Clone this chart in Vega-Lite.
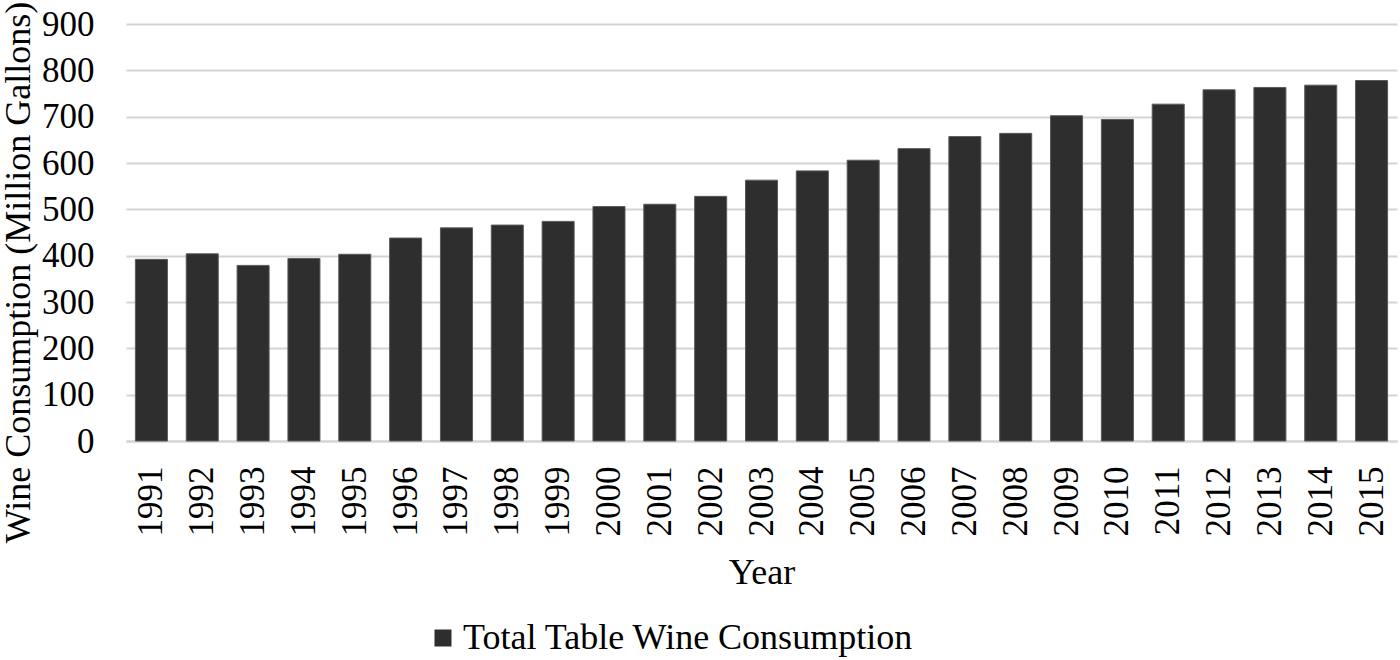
{
  "$schema": "https://vega.github.io/schema/vega-lite/v6.json",
  "width": 1271,
  "height": 417,
  "autosize": {"type": "none"},
  "padding": {"left": 126, "top": 24, "right": 3, "bottom": 219},
  "background": "white",
  "config": {
    "view": {"stroke": null},
    "font": "Liberation Serif"
  },
  "data": {
    "values": [
      {"Year": "1991", "Consumption": 392, "Series": "Total Table Wine Consumption"},
      {"Year": "1992", "Consumption": 404, "Series": "Total Table Wine Consumption"},
      {"Year": "1993", "Consumption": 379, "Series": "Total Table Wine Consumption"},
      {"Year": "1994", "Consumption": 394, "Series": "Total Table Wine Consumption"},
      {"Year": "1995", "Consumption": 403, "Series": "Total Table Wine Consumption"},
      {"Year": "1996", "Consumption": 438, "Series": "Total Table Wine Consumption"},
      {"Year": "1997", "Consumption": 460, "Series": "Total Table Wine Consumption"},
      {"Year": "1998", "Consumption": 466, "Series": "Total Table Wine Consumption"},
      {"Year": "1999", "Consumption": 474, "Series": "Total Table Wine Consumption"},
      {"Year": "2000", "Consumption": 506, "Series": "Total Table Wine Consumption"},
      {"Year": "2001", "Consumption": 511, "Series": "Total Table Wine Consumption"},
      {"Year": "2002", "Consumption": 528, "Series": "Total Table Wine Consumption"},
      {"Year": "2003", "Consumption": 563, "Series": "Total Table Wine Consumption"},
      {"Year": "2004", "Consumption": 583, "Series": "Total Table Wine Consumption"},
      {"Year": "2005", "Consumption": 606, "Series": "Total Table Wine Consumption"},
      {"Year": "2006", "Consumption": 631, "Series": "Total Table Wine Consumption"},
      {"Year": "2007", "Consumption": 657, "Series": "Total Table Wine Consumption"},
      {"Year": "2008", "Consumption": 664, "Series": "Total Table Wine Consumption"},
      {"Year": "2009", "Consumption": 702, "Series": "Total Table Wine Consumption"},
      {"Year": "2010", "Consumption": 694, "Series": "Total Table Wine Consumption"},
      {"Year": "2011", "Consumption": 727, "Series": "Total Table Wine Consumption"},
      {"Year": "2012", "Consumption": 758, "Series": "Total Table Wine Consumption"},
      {"Year": "2013", "Consumption": 763, "Series": "Total Table Wine Consumption"},
      {"Year": "2014", "Consumption": 768, "Series": "Total Table Wine Consumption"},
      {"Year": "2015", "Consumption": 778, "Series": "Total Table Wine Consumption"}
    ]
  },
  "mark": {"type": "bar", "stroke": "#5a5a5a", "strokeWidth": 1},
  "encoding": {
    "x": {
      "field": "Year",
      "type": "ordinal",
      "scale": {"paddingInner": 0.37, "paddingOuter": 0.185},
      "axis": {
        "title": "Year",
        "titleFont": "Liberation Serif",
        "titleFontSize": 36,
        "titleFontWeight": "normal",
        "titleColor": "black",
        "titleBaseline": "alphabetic",
        "titleY": 142,
        "labelAngle": -90,
        "labelFont": "Liberation Serif",
        "labelFontSize": 35,
        "labelColor": "black",
        "labelPadding": 25,
        "ticks": false,
        "tickSize": 0,
        "domain": true,
        "domainColor": "#d4d4d4",
        "domainWidth": 2,
        "grid": false
      }
    },
    "y": {
      "field": "Consumption",
      "type": "quantitative",
      "scale": {"domain": [0, 900], "nice": false},
      "axis": {
        "title": "Wine Consumption (Million Gallons)",
        "titleFont": "Liberation Serif",
        "titleFontSize": 36,
        "titleFontWeight": "normal",
        "titleColor": "black",
        "titleX": -89,
        "titleY": 248,
        "values": [0, 100, 200, 300, 400, 500, 600, 700, 800, 900],
        "labelFont": "Liberation Serif",
        "labelFontSize": 35,
        "labelColor": "black",
        "labelPadding": 32,
        "ticks": false,
        "tickSize": 0,
        "domain": false,
        "grid": true,
        "gridColor": "#d4d4d4",
        "gridWidth": 2
      }
    },
    "color": {
      "field": "Series",
      "type": "nominal",
      "scale": {"range": ["#2e2e2e"]},
      "legend": {
        "title": null,
        "orient": "none",
        "legendX": 299,
        "legendY": 596,
        "padding": 0,
        "symbolType": "square",
        "symbolSize": 289,
        "symbolStrokeWidth": 0,
        "symbolFillColor": "#2e2e2e",
        "labelFont": "Liberation Serif",
        "labelFontSize": 36,
        "labelColor": "black",
        "labelOffset": 2,
        "labelLimit": 800
      }
    }
  }
}
